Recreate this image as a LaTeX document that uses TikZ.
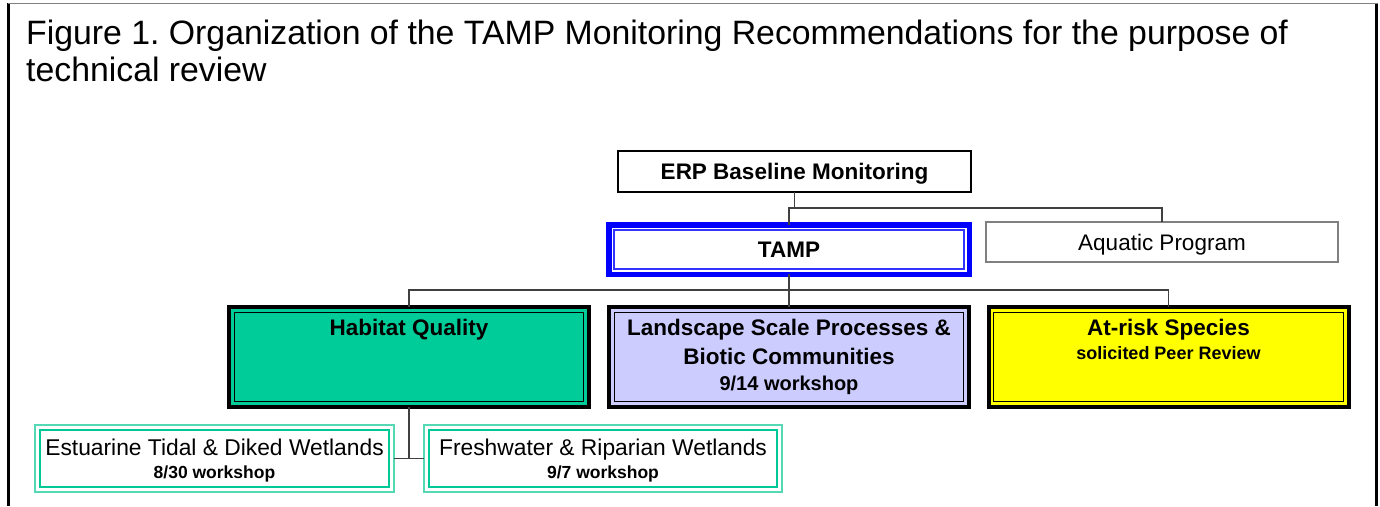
\documentclass[tikz,border=0pt]{standalone}
\usepackage{fontspec}
\setmainfont{Liberation Sans}
\frenchspacing
\definecolor{habfill}{HTML}{00CC99}
\definecolor{lavfill}{HTML}{CCCCFF}
\definecolor{yelfill}{HTML}{FFFF00}
\definecolor{tamblue}{HTML}{0000FF}
\definecolor{tealout}{HTML}{55D9B5}
\definecolor{tealin}{HTML}{00C896}
\definecolor{connc}{HTML}{404040}
\definecolor{aqgray}{HTML}{808080}
\begin{document}
\begin{tikzpicture}[x=1pt,y=-1pt,
  conn/.style={draw=connc,line width=1.5pt},
  boxfont/.style={font=\fontsize{22.5}{27}\selectfont\bfseries},
  topbox/.style={draw=black,line width=2.4pt,minimum width=353pt,minimum height=41pt,inner sep=0pt,outer sep=0pt,boxfont,text height=16.1pt,text depth=0pt},
  tampbox/.style={draw=tamblue,line width=5.5pt,minimum width=360.5pt,minimum height=49.5pt,inner sep=0pt,outer sep=0pt,boxfont,text height=16.1pt,text depth=0pt},
  aqbox/.style={draw=aqgray,line width=1.3pt,minimum width=352pt,minimum height=40pt,inner sep=0pt,outer sep=0pt,font=\fontsize{22.5}{27}\selectfont,text height=16.1pt,text depth=0pt},
  bigbox/.style={draw=black,line width=4pt,minimum width=360pt,minimum height=100pt,inner sep=0pt,outer sep=0pt},
  smallbox/.style={draw=tealout,line width=2pt,minimum height=67.5pt,inner sep=0pt,outer sep=0pt},
  bigtext/.style={anchor=base,inner sep=0pt,font=\fontsize{22.5}{27}\selectfont\bfseries},
  subtext/.style={anchor=base,inner sep=0pt,font=\fontsize{18}{22}\selectfont\bfseries},
  smalltext/.style={anchor=base,inner sep=0pt,font=\fontsize{22.8}{27}\selectfont},
  smallsub/.style={anchor=base,inner sep=0pt,font=\fontsize{17.5}{21}\selectfont\bfseries},
  titletext/.style={anchor=base west,inner sep=0pt,font=\fontsize{33.8}{40}\selectfont}]
\useasboundingbox (0,0) rectangle (1380,506);
% frame
\draw[line width=2.5pt] (8.5,3) -- (8.5,506);
\draw[line width=3pt] (1376.5,2.5) -- (1376.5,506);
\draw[line width=1.5pt,color=gray] (8,3.5) -- (1378,3.5);
% title
\node[titletext] (title1) at (26,44) {Figure 1. Organization of the TAMP Monitoring Recommendations for the purpose of};
\node[titletext] (title2) at (26,81) {technical review};
% top boxes
\node[topbox] (erp) at (794.5,171.5) {ERP Baseline Monitoring};
\node[tampbox] (tamp) at (789,249.5) {TAMP};
\draw[tamblue!80,line width=1.2pt] ([xshift=5.3pt,yshift=-5.3pt]tamp.north west) rectangle ([xshift=-5.3pt,yshift=5.3pt]tamp.south east);
\node[aqbox] (aq) at (1162,242) {Aquatic Program};
% big boxes
\node[bigbox,fill=habfill] (hab) at (409,357) {};
\node[bigbox,fill=lavfill] (land) at (789,357) {};
\node[bigbox,fill=yelfill] (risk) at (1168.5,357) {};
\foreach \b in {hab,land,risk}{
  \draw[line width=1.2pt] ([xshift=5.2pt,yshift=-5.2pt]\b.north west) rectangle ([xshift=-5.2pt,yshift=5.2pt]\b.south east);
}
\node[bigtext] (habt) at (409,335) {Habitat Quality};
\node[bigtext] (landt1) at (789,335) {Landscape Scale Processes \&};
\node[bigtext] (landt2) at (789,364) {Biotic Communities};
\node[subtext,font=\fontsize{20}{24}\selectfont\bfseries] (landt3) at (789,390) {9/14 workshop};
\node[bigtext] (riskt1) at (1168.5,335) {At-risk Species};
\node[subtext] (riskt2) at (1168.5,359) {solicited Peer Review};
% small boxes
\node[smallbox,minimum width=359.5pt] (est) at (214.5,458.5) {};
\node[smallbox,minimum width=358.5pt] (fresh) at (603,458.5) {};
\foreach \b in {est,fresh}{
  \draw[tealin,line width=2pt] ([xshift=5pt,yshift=-5pt]\b.north west) rectangle ([xshift=-5pt,yshift=5pt]\b.south east);
}
\node[smalltext] (estt1) at (214.5,455) {Estuarine Tidal \& Diked Wetlands};
\node[smallsub] (estt2) at (214.5,478) {8/30 workshop};
\node[smalltext] (fresht1) at (603,455) {Freshwater \& Riparian Wetlands};
\node[smallsub] (fresht2) at (603,478) {9/7 workshop};
% connectors
\coordinate (j1) at (789,208);
\coordinate (j2) at (789,290);
\coordinate (j3) at (409,458.5);
\draw[conn] (erp.south) -- (erp.south |- j1);
\draw[conn] (tamp.north) -- (j1) -| (aq.north);
\draw[conn] (tamp.south) -- (j2);
\draw[conn] (hab.north) |- (j2) -| (risk.north);
\draw[conn] (j2) -- (land.north);
\draw[conn] (hab.south) -- (j3);
\draw[conn] (est.east) -- (fresh.west);
\end{tikzpicture}
\end{document}
